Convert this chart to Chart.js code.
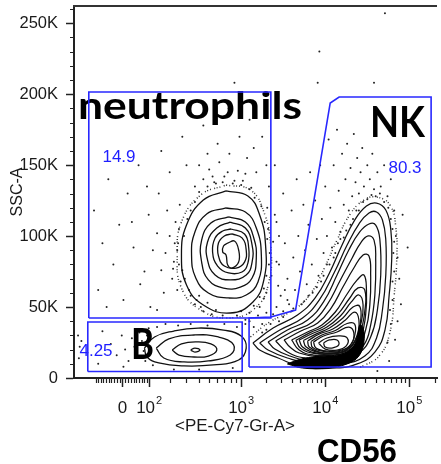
<!DOCTYPE html>
<html>
<head>
<meta charset="utf-8">
<script src="https://cdn.jsdelivr.net/npm/chart.js@4.4.0/dist/chart.umd.min.js"></script>
<style>
  html, body { margin: 0; padding: 0; background: #fff; }
  canvas { display: block; }
</style>
</head>
<body>
<canvas id="flow" width="441" height="464"></canvas>
<script>
// x: CD56 (PE-Cy7) in display decades of the biex axis (3 = 10^3), y: SSC-A in thousands
const xTickValues = [1.588, 1.906, 3, 4, 5];
const xTickBase = ['0', '10', '10', '10', '10'];
const xTickExp = ['', '2', '3', '4', '5'];
const xMinorRaw = [-100, -90, -80, -70, -60, -50, -40, -30, -20, -10, 10, 20, 30, 40, 50, 60, 70, 80, 90,
  200, 300, 400, 500, 600, 700, 800, 900, 2000, 3000, 4000, 5000, 6000, 7000, 8000, 9000,
  20000, 30000, 40000, 50000, 60000, 70000, 80000, 90000, 200000];
const yTickValues = [0, 50, 100, 150, 200, 250];
const yTickLabels = ['0', '50K', '100K', '150K', '200K', '250K'];
const yMinor = [10, 20, 30, 40, 60, 70, 80, 90, 110, 120, 130, 140, 160, 170, 180, 190, 210, 220, 230, 240, 260];

// gates
const gateNeutro = [[1.188, 42.3], [1.188, 201.5], [3.353, 201.5], [3.353, 42.3]];
const gateNK = [[3.094, 7.75], [3.094, 42.3], [3.353, 43.0], [3.647, 47.9], [4.059, 193.8], [4.165, 198.0], [5.259, 198.0], [5.259, 7.75]];
const gateB = [[1.176, 4.6], [1.176, 39.5], [3.012, 39.5], [3.012, 4.6]];
const gatePercents = ['14.9', '80.3', '4.25'];

// contour levels
const neutroRings = [
  [[2.82, 131.8], [3.08, 128.3], [3.22, 114.9], [3.29, 93.7], [3.27, 69.1], [3.14, 53.6], [2.87, 45.8], [2.55, 51.4], [2.35, 65.5], [2.29, 86.7], [2.35, 107.8], [2.55, 125.4]],
  [[2.82, 119.8], [3.05, 117.0], [3.18, 105.7], [3.24, 86.7], [3.20, 67.7], [3.06, 58.5], [2.85, 56.4], [2.61, 59.9], [2.46, 70.5], [2.41, 86.7], [2.45, 102.9], [2.59, 115.6]],
  [[2.85, 113.5], [3.05, 109.9], [3.15, 98.7], [3.18, 84.6], [3.13, 70.5], [2.99, 64.1], [2.79, 63.4], [2.61, 69.1], [2.53, 81.7], [2.53, 97.2], [2.64, 109.2]],
  [[2.87, 109.9], [3.05, 105.7], [3.13, 93.7], [3.13, 81.7], [3.06, 72.6], [2.87, 69.1], [2.69, 72.6], [2.60, 83.2], [2.60, 95.8], [2.71, 105.7]],
  [[2.88, 105.0], [3.04, 101.5], [3.09, 91.6], [3.08, 81.0], [3.01, 74.7], [2.85, 74.0], [2.72, 78.9], [2.66, 88.8], [2.69, 98.7], [2.78, 103.6]],
  [[2.89, 101.5], [3.01, 98.7], [3.06, 90.2], [3.04, 81.7], [2.94, 77.5], [2.80, 78.9], [2.73, 86.0], [2.73, 95.1], [2.80, 100.1]],
  [[2.84, 95.1], [2.92, 96.5], [2.97, 90.2], [2.97, 81.7], [2.89, 77.5], [2.84, 79.6], [2.82, 86.7], [2.78, 88.8], [2.79, 93.0]]
];
const bRings = [
  [[1.85, 21.1], [1.97, 28.9], [2.20, 33.1], [2.49, 35.2], [2.79, 33.8], [3.00, 29.6], [3.06, 21.1], [2.97, 12.7], [2.67, 9.2], [2.32, 8.5], [2.02, 10.6], [1.88, 14.8]],
  [[1.99, 21.1], [2.14, 27.5], [2.44, 30.3], [2.73, 28.9], [2.91, 23.3], [2.87, 16.2], [2.61, 12.0], [2.32, 11.3], [2.08, 14.1]],
  [[2.18, 19.7], [2.29, 24.0], [2.47, 25.4], [2.64, 24.0], [2.71, 19.7], [2.61, 15.5], [2.44, 14.8], [2.26, 16.2]],
  [[2.40, 19.7], [2.45, 21.1], [2.51, 19.7], [2.45, 18.3]]
];
const nkRings = [
  [[3.14, 24.7], [3.38, 35.2], [3.67, 44.4], [3.88, 56.4], [4.05, 74.0], [4.20, 93.7], [4.35, 111.3], [4.49, 121.2], [4.61, 123.3], [4.72, 118.4], [4.78, 104.3], [4.79, 83.2], [4.76, 58.5], [4.71, 33.8], [4.59, 18.3], [4.38, 9.9], [4.08, 7.0], [3.73, 7.8], [3.44, 14.1], [3.22, 19.7]],
  [[3.22, 24.7], [3.46, 33.8], [3.73, 42.3], [3.93, 55.0], [4.11, 74.7], [4.26, 93.7], [4.40, 108.5], [4.52, 116.3], [4.61, 117.0], [4.68, 111.3], [4.72, 97.2], [4.72, 72.6], [4.68, 47.9], [4.61, 28.2], [4.47, 15.5], [4.20, 9.9], [3.85, 9.9], [3.55, 14.1], [3.32, 19.7]],
  [[3.32, 25.4], [3.55, 33.8], [3.79, 40.9], [3.98, 53.6], [4.14, 72.6], [4.28, 90.2], [4.41, 102.9], [4.52, 108.5], [4.60, 107.8], [4.65, 97.2], [4.66, 72.6], [4.62, 47.9], [4.54, 28.9], [4.40, 17.6], [4.14, 12.0], [3.85, 11.3], [3.58, 15.5], [3.40, 20.4]],
  [[3.41, 26.1], [3.62, 33.1], [3.85, 39.5], [4.02, 51.4], [4.18, 69.1], [4.32, 84.6], [4.42, 95.1], [4.51, 100.1], [4.58, 97.2], [4.60, 83.2], [4.59, 58.5], [4.54, 37.3], [4.46, 23.3], [4.28, 14.8], [4.02, 13.4], [3.76, 14.1], [3.55, 18.3]],
  [[3.51, 26.8], [3.71, 33.1], [3.91, 38.8], [4.07, 49.3], [4.21, 64.1], [4.34, 77.5], [4.45, 86.7], [4.52, 86.0], [4.54, 72.6], [4.53, 51.4], [4.48, 33.8], [4.38, 21.1], [4.18, 15.5], [3.93, 14.8], [3.69, 17.6], [3.58, 21.8]],
  [[3.60, 26.8], [3.79, 32.4], [3.96, 37.3], [4.12, 46.5], [4.26, 59.2], [4.38, 69.1], [4.46, 72.6], [4.49, 62.0], [4.48, 44.4], [4.42, 28.9], [4.28, 19.0], [4.08, 16.2], [3.86, 16.2], [3.69, 19.7]],
  [[3.65, 26.5], [3.82, 32.0], [3.99, 36.6], [4.15, 45.0], [4.29, 56.2], [4.39, 63.5], [4.47, 62.0], [4.47, 47.0], [4.41, 31.0], [4.30, 20.5], [4.10, 17.2], [3.88, 17.2], [3.71, 20.8]],
  [[3.69, 26.8], [3.86, 31.7], [4.02, 35.9], [4.18, 43.7], [4.31, 53.6], [4.40, 58.5], [4.45, 51.4], [4.42, 37.3], [4.35, 25.4], [4.21, 18.3], [4.02, 16.9], [3.84, 18.3], [3.73, 21.8]],
  [[3.74, 26.4], [3.90, 31.3], [4.05, 35.2], [4.21, 42.3], [4.33, 50.0], [4.41, 50.5], [4.42, 40.0], [4.37, 27.5], [4.25, 19.7], [4.06, 17.4], [3.88, 18.6], [3.77, 22.0]],
  [[3.79, 26.1], [3.93, 31.0], [4.09, 34.5], [4.24, 40.9], [4.35, 46.5], [4.40, 40.9], [4.38, 30.3], [4.28, 21.1], [4.12, 17.6], [3.93, 18.3], [3.81, 21.8]],
  [[3.83, 25.7], [3.96, 30.3], [4.12, 33.5], [4.26, 38.4], [4.35, 38.0], [4.35, 30.0], [4.29, 22.5], [4.16, 18.6], [3.98, 18.8], [3.85, 21.5]],
  [[3.86, 25.4], [3.98, 29.6], [4.14, 32.4], [4.28, 35.9], [4.34, 31.7], [4.31, 24.0], [4.19, 19.7], [4.02, 19.0], [3.89, 21.1]],
  [[3.92, 24.7], [4.02, 28.2], [4.16, 29.6], [4.26, 28.2], [4.25, 22.6], [4.14, 19.7], [4.00, 20.4]],
  [[3.98, 24.7], [4.05, 26.8], [4.14, 26.8], [4.16, 23.3], [4.08, 21.1], [4.00, 21.8]]
];
const nkDense = [[3.55, 9.9], [3.67, 12.7], [3.85, 14.8], [4.02, 15.5], [4.20, 16.9], [4.32, 21.1], [4.38, 28.2], [4.41, 37.3], [4.45, 35.2], [4.46, 25.4], [4.40, 15.5], [4.26, 9.9], [4.02, 7.0], [3.73, 7.0]];
const neutroHalo = [[2.82, 136.0], [3.11, 132.5], [3.27, 117.0], [3.35, 93.7], [3.33, 67.7], [3.18, 50.0], [2.87, 42.3], [2.52, 47.9], [2.29, 63.4], [2.24, 86.7], [2.29, 109.9], [2.52, 129.0]];
const nkHalo = [[3.11, 28.9], [3.34, 39.5], [3.64, 48.6], [3.84, 60.6], [3.99, 77.5], [4.14, 97.2], [4.29, 114.9], [4.46, 125.4], [4.61, 127.5], [4.77, 121.9], [4.84, 105.7], [4.85, 83.2], [4.82, 58.5], [4.77, 32.4], [4.64, 15.5], [4.40, 7.0]];

// outlier events
const eventsNeutro = [
  [2.55, 140], [2.62, 147], [2.68, 138], [2.74, 152], [2.80, 142], [2.86, 158], [2.90, 137], [2.96, 146], [3.02, 139], [3.07, 155], [3.12, 134], [3.18, 145],
  [2.60, 158], [2.72, 165], [2.98, 170], [3.15, 162], [2.50, 150], [2.45, 135],
  [2.25, 95], [2.20, 82], [2.22, 110], [2.18, 70], [2.15, 100], [2.10, 88], [2.12, 118], [2.05, 76], [2.00, 102], [2.08, 60], [1.95, 90], [1.90, 115], [2.24, 62], [2.27, 122], [2.02, 130], [1.85, 75],
  [3.32, 105], [3.34, 88], [3.31, 120], [3.36, 72], [3.38, 96], [3.30, 60], [3.40, 115], [3.42, 82], [3.33, 135], [3.45, 100],
  [2.45, 52], [2.55, 47], [2.65, 45], [2.78, 44], [2.95, 44], [3.10, 46], [3.22, 50], [2.40, 58], [3.27, 56],
  [1.25, 118], [1.35, 95], [1.30, 62], [1.42, 140], [1.48, 80], [1.55, 108], [1.60, 55], [1.65, 130], [1.72, 92], [1.78, 150], [1.80, 66], [1.88, 135], [1.92, 50],
  [2.05, 160], [2.15, 145], [2.30, 170], [2.35, 150], [2.40, 185], [2.55, 178], [2.85, 190], [3.10, 182], [3.25, 170], [3.30, 150], [2.00, 48], [1.70, 110], [1.40, 50],
  [2.40, 118], [2.45, 124], [2.50, 131], [2.60, 135], [2.36, 112], [2.32, 100], [2.30, 76], [2.33, 70], [2.38, 62], [2.47, 55], [2.52, 50],
  [2.70, 137], [2.78, 138], [2.92, 139], [3.00, 136], [3.10, 133], [3.16, 127], [3.24, 121], [2.66, 142], [2.84, 145], [3.05, 144],
  [3.28, 110], [3.31, 98], [3.33, 80], [3.30, 72], [3.27, 63], [3.22, 57],
  [3.00, 47], [2.70, 48], [2.60, 53], [2.50, 58], [3.15, 51],
  [2.26, 80], [2.24, 90], [2.26, 105], [2.21, 95], [2.19, 77], [2.28, 68]
];
const eventsNK = [
  [3.40, 150], [3.42, 110], [3.45, 80], [3.47, 58], [3.50, 130], [3.52, 95], [3.55, 70], [3.57, 52], [3.60, 118], [3.62, 85], [3.64, 62], [3.66, 140],
  [3.68, 100], [3.70, 75], [3.74, 122], [3.76, 90], [3.78, 66], [3.80, 108], [3.82, 145], [3.84, 80], [3.88, 125], [3.90, 98], [3.92, 72], [3.94, 150],
  [3.96, 112], [3.98, 88], [4.00, 135], [4.02, 100], [4.04, 168], [4.06, 120], [4.08, 92], [4.10, 150], [4.12, 110], [4.14, 175], [4.16, 132], [4.18, 103],
  [4.20, 158], [4.22, 122], [4.24, 140], [4.26, 165], [4.28, 118], [4.30, 148], [4.32, 128], [4.34, 172], [4.36, 138], [4.38, 155], [4.40, 130], [4.42, 145],
  [4.44, 162], [4.46, 135], [4.50, 150], [4.53, 140], [4.56, 158], [4.58, 133], [4.62, 145], [4.66, 135], [4.70, 150], [4.74, 128], [4.78, 140], [4.82, 118],
  [4.84, 100], [4.86, 85], [4.88, 70], [4.90, 52], [4.86, 40], [4.83, 27], [4.92, 115], [4.98, 92], [4.76, 12], [4.62, 5],
  [3.30, 34], [3.45, 40], [3.60, 47], [3.75, 54], [3.85, 60], [3.95, 68], [4.05, 80], [4.12, 88], [4.22, 99], [4.30, 108], [4.40, 118], [4.50, 126],
  [4.60, 128], [4.70, 124], [4.78, 112], [4.82, 96], [4.82, 75], [4.80, 55], [4.78, 38],
  [3.10, 40], [3.15, 36], [3.20, 44], [3.05, 41], [3.25, 38], [3.38, 45], [3.42, 50], [3.50, 47], [3.55, 55], [3.44, 65], [3.52, 62], [3.30, 46],
  [3.25, 32], [3.35, 38], [3.50, 43], [3.62, 49], [3.72, 52], [3.80, 58], [3.90, 64], [3.98, 72], [4.02, 80], [4.10, 85], [4.15, 95], [4.18, 98],
  [4.25, 104], [4.33, 112], [4.37, 118], [4.45, 124], [4.55, 129], [4.65, 130], [4.75, 120], [4.80, 105], [4.81, 88], [4.80, 68], [4.77, 48], [4.74, 25]
];
const eventsB = [
  [1.06, 30], [1.08, 22], [1.07, 14], [1.10, 26], [1.45, 24], [1.52, 16], [1.58, 30], [1.62, 20], [1.66, 12], [1.70, 28], [1.73, 22], [1.76, 16],
  [1.79, 32], [1.82, 26], [1.84, 19], [1.86, 12], [1.88, 30], [1.90, 35], [1.95, 9], [2.00, 36], [2.10, 38], [2.25, 37], [2.40, 38], [2.60, 37],
  [2.80, 38], [2.95, 36], [3.05, 38], [2.90, 7], [2.50, 6], [2.20, 6], [1.60, 8], [1.35, 33], [1.30, 10]
];
const eventsTop = [[2.92, 208], [3.91, 208], [4.58, 208], [3.93, 230], [4.71, 257]];

// raw CD56 intensity -> display decades (biex-like), used for the minor tick marks
function toDisplay(v) {
  if (v >= 1000) return Math.log10(v);
  return 1.588 + 1.412 * Math.asinh(v / 170) / Math.asinh(1000 / 170);
}

const pts = arr => arr.map(([x, y]) => ({ x, y }));
const closed = arr => pts(arr.concat([arr[0]]));
const GATE_BLUE = 'rgb(40,40,255)';

const gateSet = arr => ({ data: closed(arr), showLine: true, borderColor: GATE_BLUE, borderWidth: 1.6, pointRadius: 0, tension: 0, fill: false });
const ringSet = (arr, w) => ({ data: closed(arr), showLine: true, borderColor: '#111', borderWidth: w || 1.3, pointRadius: 0, tension: 0.45, fill: false });
const dotSet = arr => ({ data: pts(arr), showLine: false, pointRadius: 1, pointBackgroundColor: '#222', pointBorderWidth: 0 });
const haloSet = arr => ({ data: arr, showLine: true, borderColor: '#333', borderWidth: 1.5, borderDash: [1, 2, 1, 3.5, 1, 1.5], pointRadius: 0, tension: 0.45, fill: false });

const datasets = [
  gateSet(gateNeutro), gateSet(gateNK), gateSet(gateB),
  haloSet(closed(neutroHalo)),
  haloSet(pts(nkHalo)),
  { data: closed(nkDense), showLine: true, borderColor: '#000', backgroundColor: '#000', borderWidth: 1, pointRadius: 0, tension: 0.4, fill: 'shape' },
  ...neutroRings.map(r => ringSet(r)),
  ...bRings.map(r => ringSet(r)),
  ...nkRings.map(r => ringSet(r, 1.25)),
  dotSet(eventsNeutro), dotSet(eventsNK), dotSet(eventsB), dotSet(eventsTop)
];
const TEXT_AFTER = 3; // labels go on top of everything but the gates

function fitText(ctx, text, left, baseline, width, cap, family, weight) {
  const size = cap / 0.72;
  ctx.font = `${weight} ${size}px ${family}`;
  const w = ctx.measureText(text).width;
  ctx.save();
  ctx.translate(left, baseline);
  ctx.scale(width / w, 1);
  ctx.textAlign = 'left';
  ctx.textBaseline = 'alphabetic';
  ctx.fillText(text, 0, 0);
  ctx.restore();
}

function drawLabels(chart) {
  const ctx = chart.ctx;
  ctx.save();
  ctx.fillStyle = '#000';
  fitText(ctx, 'neutrophils', 78, 119, 224, 28, 'Lato, "Open Sans", sans-serif', 'bold');
  fitText(ctx, 'NK', 370, 137, 55, 30, 'Lato, "Open Sans", sans-serif', 'bold');
  fitText(ctx, 'B', 131, 359, 23, 30, 'Lato, "Open Sans", sans-serif', 'bold');
  ctx.fillStyle = 'rgb(30,30,255)';
  ctx.font = '17px "Liberation Sans", Arial, sans-serif';
  ctx.textAlign = 'center';
  ctx.textBaseline = 'middle';
  ctx.fillText(gatePercents[0], 119, 157);
  ctx.fillText(gatePercents[1], 405, 168);
  ctx.fillText(gatePercents[2], 96, 351);
  ctx.restore();
}

const frame = {
  id: 'frame',
  afterDatasetDraw(chart, args) {
    if (args.index === TEXT_AFTER) drawLabels(chart);
  },
  afterDraw(chart) {
    const ctx = chart.ctx, area = chart.chartArea;
    const xs = chart.scales.x, ys = chart.scales.y;
    ctx.save();
    ctx.strokeStyle = '#222';
    ctx.lineWidth = 1.2;
    ctx.beginPath();
    xMinorRaw.forEach(v => {
      const px = Math.round(xs.getPixelForValue(toDisplay(v))) + 0.5;
      ctx.moveTo(px, area.bottom);
      ctx.lineTo(px, area.bottom + 5);
    });
    yMinor.forEach(v => {
      const py = Math.round(ys.getPixelForValue(v)) + 0.5;
      ctx.moveTo(area.left, py);
      ctx.lineTo(area.left - 4, py);
    });
    ctx.stroke();
    // top frame
    ctx.strokeStyle = '#333';
    ctx.lineWidth = 2;
    ctx.beginPath();
    ctx.moveTo(area.left - 1, area.top);
    ctx.lineTo(area.right, area.top);
    ctx.stroke();
    // x tick labels with exponents
    ctx.fillStyle = '#1a1a1a';
    ctx.textBaseline = 'alphabetic';
    xTickValues.forEach((v, i) => {
      const px = xs.getPixelForValue(v);
      ctx.font = '17px "Liberation Sans", Arial, sans-serif';
      const bw = ctx.measureText(xTickBase[i]).width;
      ctx.font = '11px "Liberation Sans", Arial, sans-serif';
      const ew = xTickExp[i] ? ctx.measureText(xTickExp[i]).width + 1 : 0;
      const left = px - (bw + ew) / 2;
      ctx.font = '17px "Liberation Sans", Arial, sans-serif';
      ctx.textAlign = 'left';
      ctx.fillText(xTickBase[i], left, 413);
      if (xTickExp[i]) {
        ctx.font = '11px "Liberation Sans", Arial, sans-serif';
        ctx.fillText(xTickExp[i], left + bw + 1, 404);
      }
    });
    // axis names
    ctx.fillStyle = '#1a1a1a';
    fitText(ctx, '<PE-Cy7-Gr-A>', 175, 431, 120, 11.5, '"Liberation Sans", Arial, sans-serif', 'normal');
    ctx.fillStyle = '#000';
    fitText(ctx, 'CD56', 317, 462, 80, 24, '"Liberation Sans", Arial, sans-serif', 'bold');
    ctx.restore();
  }
};

new Chart(document.getElementById('flow'), {
  type: 'scatter',
  data: { datasets },
  options: {
    responsive: false,
    animation: false,
    devicePixelRatio: 1,
    layout: { padding: { top: 6, right: 0, left: 0, bottom: 0 } },
    plugins: { legend: { display: false }, tooltip: { enabled: false } },
    scales: {
      x: {
        type: 'linear',
        min: 1.012,
        max: 5.329,
        afterFit: s => { s.height = 86; s.paddingLeft = 0; s.paddingRight = 0; },
        afterBuildTicks: s => { s.ticks = xTickValues.map(value => ({ value })); },
        ticks: { display: false },
        grid: { drawOnChartArea: false, drawTicks: true, tickLength: 9, tickWidth: 1.5, tickColor: '#222' },
        border: { display: true, color: '#222', width: 2 }
      },
      y: {
        type: 'linear',
        min: 0,
        max: 262.144,
        afterFit: s => { s.width = 74; s.paddingTop = 0; s.paddingBottom = 0; },
        afterBuildTicks: s => { s.ticks = yTickValues.map(value => ({ value })); },
        ticks: {
          padding: 8,
          color: '#1a1a1a',
          font: { family: '"Liberation Sans", Arial, sans-serif', size: 16.5 },
          callback: (v, i) => yTickLabels[i]
        },
        grid: { drawOnChartArea: false, drawTicks: true, tickLength: 8, tickWidth: 1.5, tickColor: '#222' },
        border: { display: true, color: '#222', width: 2 },
        title: {
          display: true,
          text: 'SSC-A',
          color: '#1a1a1a',
          font: { family: '"Liberation Sans", Arial, sans-serif', size: 16 },
          padding: { top: 8, bottom: 0 }
        }
      }
    }
  },
  plugins: [frame]
});
</script>
</body>
</html>
